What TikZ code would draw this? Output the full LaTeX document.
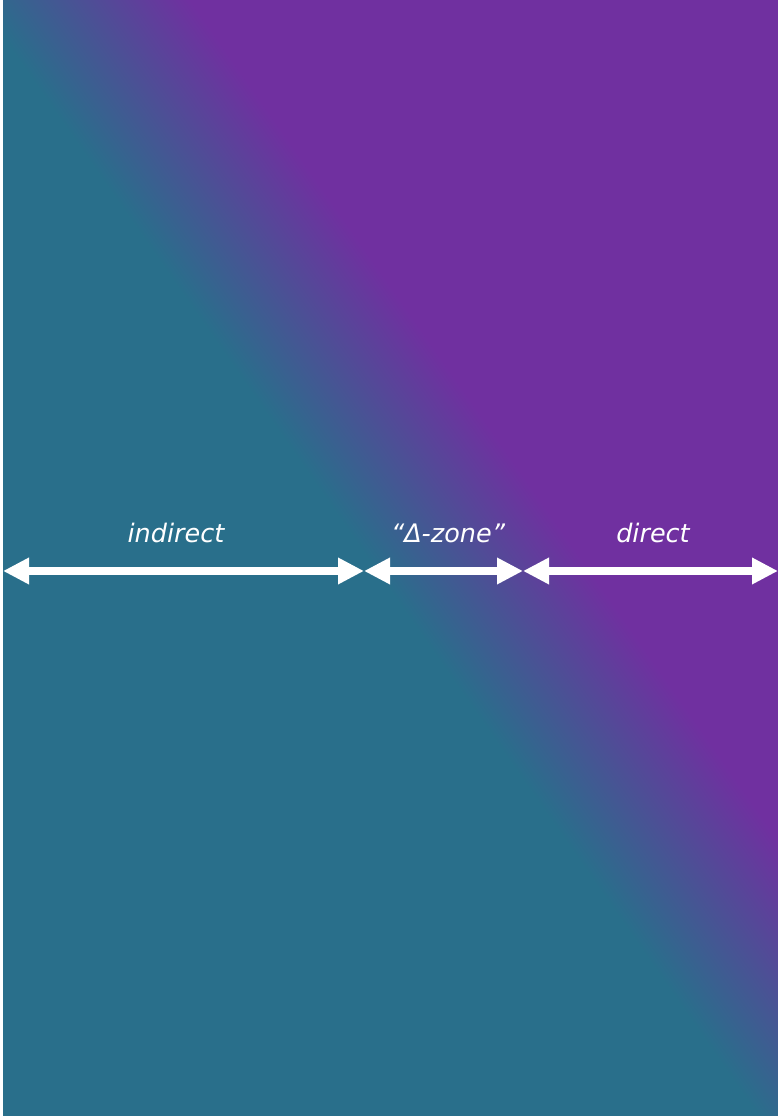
\documentclass[tikz,border=0pt]{standalone}
\usepackage{fontspec}
\setmainfont{DejaVu Sans}
\usetikzlibrary{arrows.meta}
\definecolor{tealbg}{RGB}{41,111,139}
\definecolor{purplebg}{RGB}{112,48,160}
\tikzset{
  dblarrow/.style={draw=white, line width=8.5pt,
    {Triangle[length=26pt,width=25pt]}-{Triangle[length=26pt,width=25pt]}},
  zonelabel/.style={text=white, font=\fontsize{25.5}{30}\selectfont\itshape, anchor=base, inner sep=0pt}
}
\begin{document}
\begin{tikzpicture}[x=1pt,y=1pt]
\useasboundingbox (0,0) rectangle (778,1116);
\begin{scope}
  \clip (3,0) rectangle (778,1115);
  \fill[tealbg] (3,0) rectangle (778,1115);
  \begin{scope}[transform canvas={rotate around={35:(474,558)}}]
    \fill[purplebg] (561,-1500) rectangle (2600,2600);
    \shade[left color=tealbg, right color=purplebg] (386.3,-1500) rectangle (561.7,2600);
  \end{scope}
\end{scope}
% arrow end points
\coordinate (a0) at (3,545);
\coordinate (a1) at (364,545);
\coordinate (a2) at (523,545);
\coordinate (a3) at (778,545);
\draw[dblarrow] (a0) -- (a1);
\draw[dblarrow] (a1) -- (a2);
\draw[dblarrow] (a2) -- (a3);
\node[zonelabel] (lind) at (176,573) {indirect};
\node[zonelabel] (ldelta) at (448,573) {“Δ-zone”};
\node[zonelabel] (ldir) at (653,573) {direct};
\end{tikzpicture}
\end{document}
